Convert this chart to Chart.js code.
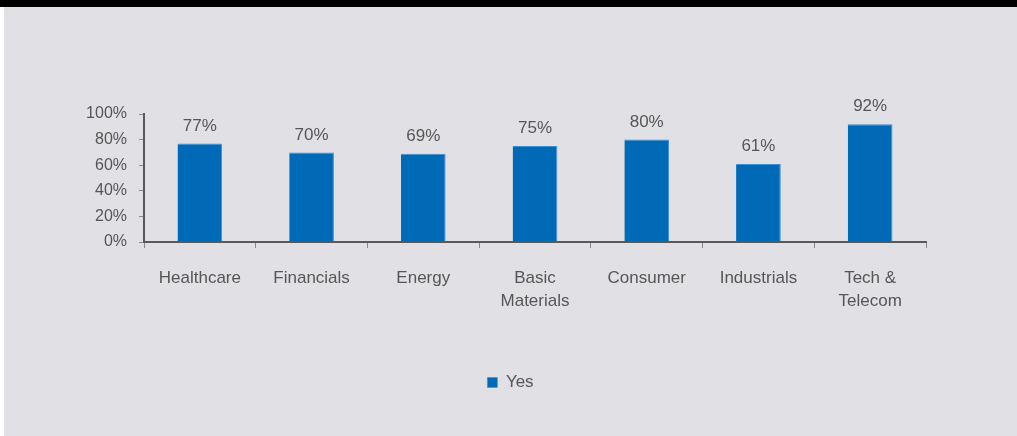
<!DOCTYPE html>
<html>
<head>
<meta charset="utf-8">
<script src="https://cdn.jsdelivr.net/npm/chart.js@4"></script>
<style>
  html, body { margin: 0; padding: 0; background: #ffffff; }
  #frame {
    position: absolute; left: 0; top: 0; width: 1017px; height: 436px;
    background: #ffffff;
  }
  #topbar { position: absolute; left: 0; top: 0; width: 1017px; height: 7px; background: #000; }
  #panel {
    position: absolute; left: 4px; top: 7px; width: 1013px; height: 429px;
    background: #e1e0e5;
  }
</style>
</head>
<body>
<div id="frame">
  <div id="topbar"></div>
  <div id="panel"><canvas id="chart"></canvas></div>
</div>
<script>
'use strict'

const categories = ['Healthcare', 'Financials', 'Energy', ['Basic', 'Materials'], 'Consumer', 'Industrials', ['Tech &', 'Telecom']];
const yesValues = [77, 70, 69, 75, 80, 61, 92];
const seriesName = 'Yes';
const yTicks = [0, 20, 40, 60, 80, 100];

const textColor = '#565656';
const axisColor = '#595959';
const barColor = '#006ab7';
const fontFamily = "'Liberation Sans Narrow', 'Liberation Sans', Arial, sans-serif";

const canvas = document.getElementById('chart');

const barLabels = {
    id: 'barLabels',
    afterDatasetsDraw(chart){
        const ctx = chart.ctx;
        const meta = chart.getDatasetMeta(0);
        ctx.save();
        ctx.font = '17px ' + fontFamily;
        ctx.fillStyle = textColor;
        ctx.textAlign = 'center';
        ctx.textBaseline = 'bottom';
        for (let i = 0; i < meta.data.length; i++){
            let bar = meta.data[i];
            ctx.fillText(yesValues[i] + '%', bar.x, bar.y - 9);
        }
        ctx.restore();
    }
};

const chart = new Chart(canvas, {
    type: 'bar',
    data: {
        labels: categories,
        datasets: [{
            label: seriesName,
            data: yesValues,
            backgroundColor: barColor,
            borderColor: '#3f8fd0',
            borderWidth: {top: 1, right: 1, left: 0, bottom: 0},
            categoryPercentage: 1,
            barPercentage: 0.4
        }]
    },
    options: {
        responsive: true,
        maintainAspectRatio: false,
        animation: false,
        layout: {
            padding: {left: 0, right: 0, top: 107, bottom: 35}
        },
        plugins: {
            legend: {
                position: 'bottom',
                labels: {
                    boxWidth: 10,
                    boxHeight: 10,
                    padding: 6,
                    color: textColor,
                    font: {family: fontFamily, size: 17}
                }
            },
            tooltip: {enabled: false}
        },
        scales: {
            x: {
                grid: {
                    display: true,
                    drawOnChartArea: false,
                    drawTicks: true,
                    tickLength: 6,
                    color: '#8a8a8a',
                    offset: true
                },
                border: {color: axisColor, width: 2},
                ticks: {
                    color: textColor,
                    padding: 18,
                    maxRotation: 0,
                    autoSkip: false,
                    font: {family: fontFamily, size: 17, lineHeight: 1.4}
                },
                afterFit(scale){
                    scale.height = 126;
                }
            },
            y: {
                min: 0,
                max: 100,
                afterBuildTicks(scale){
                    scale.ticks = yTicks.map(v => ({value: v}));
                },
                grid: {
                    display: true,
                    drawOnChartArea: false,
                    drawTicks: true,
                    tickLength: 5,
                    color: '#8a8a8a'
                },
                border: {color: axisColor, width: 2},
                ticks: {
                    color: textColor,
                    padding: 12,
                    font: {family: fontFamily, size: 16},
                    callback: v => v + '%'
                },
                afterFit(scale){
                    scale.width = 140;
                }
            },
            // empty right-hand axis, only keeps the plot off the right edge
            yRight: {
                position: 'right',
                display: true,
                grid: {display: false},
                border: {display: false},
                ticks: {display: false},
                afterFit(scale){
                    scale.width = 91;
                }
            }
        }
    },
    plugins: [barLabels]
});
</script>
</body>
</html>
